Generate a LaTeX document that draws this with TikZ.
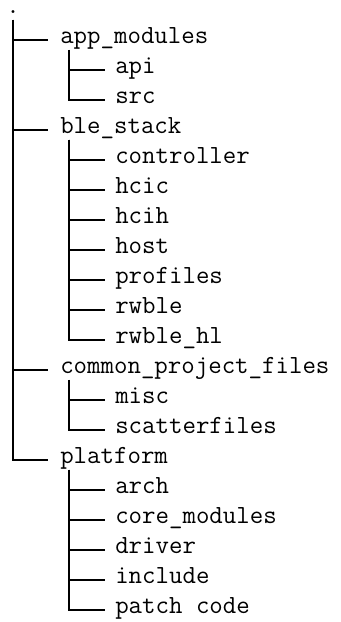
\documentclass[tikz,border=0pt]{standalone}
\usetikzlibrary{calc}
\begin{document}
\begin{tikzpicture}[x=0.75pt,y=-0.75pt,
  entry/.style={inner sep=0pt, anchor=base west, text height=0.65em, text depth=0.2em,
                font=\fontsize{19.6}{22}\selectfont\ttfamily},
  branch/.style={draw=black, line width=1.6pt}]
\useasboundingbox (0,0) rectangle (340,622);

% root
\node[entry, anchor=base, text height=0.3em] (root) at (13,13) {.};

% first level
\node[entry] (app)      at (60,43)  {app\_modules};
\node[entry] (ble)      at (60,133) {ble\_stack};
\node[entry] (common)   at (60,373) {common\_project\_files};
\node[entry] (platform) at (60,463) {platform};

% second level
\node[entry] (api) at (115,73)  {api};
\node[entry] (src) at (115,103) {src};

\node[entry] (controller) at (115,163) {controller};
\node[entry] (hcic)       at (115,193) {hcic};
\node[entry] (hcih)       at (115,223) {hcih};
\node[entry] (host)       at (115,253) {host};
\node[entry] (profiles)   at (115,283) {profiles};
\node[entry] (rwble)      at (115,313) {rwble};
\node[entry] (rwblehl)    at (115,343) {rwble\_hl};

\node[entry] (misc)    at (115,403) {misc};
\node[entry] (scatter) at (115,433) {scatterfiles};

\node[entry] (arch)    at (115,493) {arch};
\node[entry] (core)    at (115,523) {core\_modules};
\node[entry] (driver)  at (115,553) {driver};
\node[entry] (include) at (115,583) {include};
\node[entry] (patch)   at (115,613) {patch code};

% branches from the root
\foreach \c in {app,ble,common,platform}
  \draw[branch] ($(root.south)+(0,4)$) |- ($(\c.west)+(-12,0)$);

% branches from each first-level folder
\foreach \p/\c in {app/api,app/src,
                   ble/controller,ble/hcic,ble/hcih,ble/host,ble/profiles,ble/rwble,ble/rwblehl,
                   common/misc,common/scatter,
                   platform/arch,platform/core,platform/driver,platform/include,platform/patch}
  \draw[branch] ($(\p.south west)+(9,4)$) |- ($(\c.west)+(-10,0)$);
\end{tikzpicture}
\end{document}
